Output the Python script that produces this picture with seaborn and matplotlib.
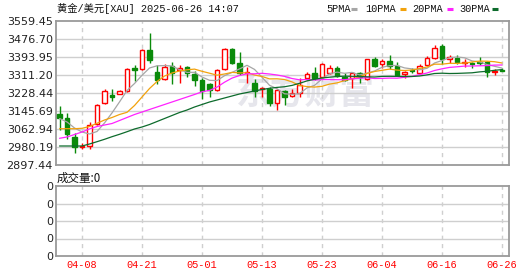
import numpy as np
import pandas as pd
import matplotlib
matplotlib.use("Agg")
import matplotlib.pyplot as plt
from matplotlib.lines import Line2D
import seaborn as sns

# ---------------- data ----------------
date_labels = ['04-08', '04-21', '05-01', '05-13', '05-23', '06-04', '06-16', '06-26']
date_pos = [3, 11, 19, 27, 35, 43, 51, 59]
price_ticks = [2897.44, 2980.19, 3062.94, 3145.69, 3228.44, 3311.20, 3393.95, 3476.70, 3559.45]

opens = [3130.5, 3112.1, 3027.6, 2978.8, 2984.8, 3085.9, 3181.1, 3219.3, 3223.9, 3236.3,
         3343.4, 3336.5, 3426.1, 3325.0, 3295.1, 3350.3, 3331.9, 3346.6, 3317.2, 3288.2,
         3269.8, 3242.2, 3338.8, 3433.0, 3365.0, 3318.1, 3274.4, 3246.8, 3249.1, 3181.1,
         3235.4, 3214.7, 3229.8, 3296.0, 3319.0, 3300.6, 3319.0, 3342.0, 3303.4, 3296.0,
         3321.8, 3291.4, 3383.4, 3360.4, 3375.6, 3352.6, 3315.8, 3334.2, 3321.8, 3357.2,
         3390.7, 3444.5, 3384.8, 3390.7, 3365.0, 3366.4, 3372.3, 3369.6, 3323.6, 3334.2]
highs = [3168.7, 3135.1, 3043.2, 2997.2, 3096.5, 3176.5, 3245.5, 3245.5, 3242.2, 3342.0,
         3357.2, 3429.4, 3505.7, 3357.2, 3360.4, 3369.6, 3354.9, 3352.6, 3329.6, 3299.7,
         3275.8, 3338.8, 3435.3, 3435.3, 3418.3, 3349.4, 3292.8, 3257.4, 3257.4, 3245.5,
         3242.2, 3246.8, 3296.0, 3326.4, 3346.6, 3367.8, 3357.2, 3352.6, 3319.0, 3326.4,
         3326.4, 3384.8, 3395.3, 3383.4, 3403.1, 3372.3, 3327.3, 3344.8, 3360.4, 3398.5,
         3449.1, 3453.7, 3403.1, 3403.1, 3384.8, 3372.3, 3395.3, 3376.9, 3338.8, 3344.8]
lows = [3058.4, 3015.6, 2954.0, 2971.0, 2969.6, 3081.3, 3180.0, 3191.7, 3221.6, 3234.4,
        3283.6, 3334.2, 3367.8, 3269.8, 3290.5, 3269.8, 3273.0, 3303.4, 3262.9, 3200.9,
        3210.1, 3237.6, 3331.9, 3361.8, 3311.2, 3274.4, 3211.4, 3211.4, 3168.7, 3150.3,
        3173.3, 3207.8, 3208.7, 3288.2, 3288.2, 3296.0, 3314.4, 3300.6, 3283.6, 3250.1,
        3275.8, 3289.6, 3346.6, 3342.0, 3338.8, 3306.6, 3296.0, 3319.0, 3319.0, 3354.0,
        3383.4, 3361.8, 3367.8, 3361.8, 3349.4, 3342.0, 3357.2, 3300.6, 3311.2, 3327.3]
closes = [3114.9, 3038.6, 2981.6, 2984.8, 3080.0, 3171.9, 3237.6, 3211.4, 3237.6, 3340.2,
          3332.8, 3426.1, 3380.2, 3288.2, 3345.7, 3321.8, 3341.1, 3319.0, 3289.6, 3239.0,
          3244.5, 3334.2, 3433.0, 3365.0, 3320.4, 3326.4, 3239.9, 3251.4, 3181.1, 3242.2,
          3210.1, 3227.1, 3265.2, 3315.8, 3298.8, 3360.4, 3342.0, 3306.6, 3288.2, 3319.0,
          3303.4, 3383.4, 3354.0, 3374.2, 3354.0, 3311.2, 3326.4, 3329.6, 3354.0, 3388.0,
          3433.9, 3384.8, 3392.6, 3369.6, 3369.6, 3363.6, 3365.0, 3326.4, 3331.0, 3329.6]

ma5 = [3111.2, 3095.1, 3067.6, 3049.2, 3040.0, 3051.5, 3091.0, 3137.0, 3187.5, 3239.9,
       3272.1, 3309.8, 3343.4, 3353.5, 3354.4, 3352.6, 3335.6, 3323.2, 3323.6, 3302.0,
       3286.8, 3285.5, 3308.0, 3323.2, 3339.2, 3355.8, 3336.9, 3300.6, 3263.9, 3248.2,
       3224.8, 3222.5, 3225.2, 3251.9, 3263.4, 3293.3, 3316.3, 3324.5, 3319.0, 3323.2,
       3311.7, 3319.9, 3329.6, 3346.6, 3354.0, 3355.3, 3343.8, 3339.2, 3335.1, 3342.0,
       3366.4, 3377.9, 3390.7, 3394.0, 3390.3, 3376.0, 3371.9, 3359.0, 3351.2, 3342.9]
ma10 = [3064.3, 3064.3, 3064.3, 3066.2, 3074.4, 3089.2, 3104.3, 3115.8, 3129.6, 3139.7,
        3171.0, 3210.1, 3249.1, 3281.3, 3306.6, 3320.4, 3329.6, 3335.1, 3338.3, 3328.2,
        3319.5, 3310.3, 3315.8, 3323.2, 3320.9, 3321.3, 3311.2, 3304.3, 3293.3, 3293.7,
        3290.5, 3279.5, 3262.9, 3257.9, 3255.6, 3259.3, 3269.4, 3274.9, 3285.5, 3293.3,
        3302.5, 3318.1, 3327.3, 3332.8, 3338.3, 3333.7, 3331.9, 3334.2, 3341.1, 3348.0,
        3360.9, 3360.9, 3365.0, 3364.5, 3365.9, 3371.0, 3375.1, 3374.6, 3372.3, 3366.4]
ma20 = [3020.2, 3026.2, 3037.7, 3049.2, 3063.0, 3074.4, 3081.3, 3088.2, 3102.0, 3115.8,
        3129.6, 3141.1, 3152.6, 3164.1, 3175.6, 3187.1, 3198.6, 3210.1, 3221.6, 3234.0,
        3240.4, 3255.6, 3278.1, 3297.0, 3308.9, 3316.7, 3316.7, 3319.0, 3315.8, 3311.2,
        3304.8, 3295.1, 3289.1, 3290.5, 3288.2, 3290.1, 3290.1, 3289.6, 3289.6, 3293.7,
        3296.5, 3298.8, 3295.1, 3295.6, 3297.0, 3296.5, 3300.6, 3304.8, 3313.0, 3320.4,
        3331.9, 3339.7, 3346.1, 3348.9, 3352.1, 3352.6, 3353.5, 3354.4, 3356.7, 3357.2]
ma30 = [2984.8, 2984.8, 2984.8, 2984.8, 2994.0, 3004.6, 3015.6, 3027.6, 3038.6, 3050.5,
        3063.0, 3072.2, 3083.6, 3097.4, 3111.2, 3125.0, 3138.8, 3150.3, 3164.1, 3175.6,
        3187.1, 3196.3, 3205.5, 3214.7, 3223.9, 3230.8, 3237.6, 3244.5, 3250.1, 3254.2,
        3257.2, 3263.4, 3273.0, 3284.1, 3291.4, 3297.4, 3301.1, 3304.3, 3305.7, 3305.2,
        3304.3, 3302.9, 3302.0, 3304.8, 3305.2, 3304.8, 3304.3, 3304.3, 3306.6, 3311.7,
        3318.1, 3319.5, 3318.1, 3318.6, 3319.9, 3321.3, 3325.5, 3328.2, 3332.8, 3336.0]

ma_names = ['5PMA', '10PMA', '20PMA', '30PMA']
ma_colors = ['#a6a6a6', '#f2a20c', '#ff22ff', '#0d6b2c']

# ---------------- style ----------------
sns.set_style("white")
plt.rcParams['font.family'] = ['DejaVu Sans']
mono_cjk = ['Liberation Mono', 'Noto Sans CJK SC', 'DejaVu Sans']

RED = '#ff0000'
GREEN = '#0a8a0a'
GRID = '#cfcfcf'
SPINE = '#9a9a9a'

W, H = 530, 276
fig = plt.figure(figsize=(W / 100, H / 100), dpi=100)
fig.patch.set_facecolor('white')


def rect(l, t, r, b):
    return [l / W, 1 - b / H, (r - l) / W, (b - t) / H]


ax = fig.add_axes(rect(56, 21, 509, 165))
ax2 = fig.add_axes(rect(56, 186, 509, 256))

n = len(closes)
idx = np.arange(n)
df = pd.DataFrame({'i': idx, 'open': opens, 'high': highs, 'low': lows, 'close': closes,
                   '5PMA': ma5, '10PMA': ma10, '20PMA': ma20, '30PMA': ma30})
up = df['close'] >= df['open']

# watermark (axes-fraction placement)
ax.text(0.55, 0.50, '东方财富', transform=ax.transAxes, ha='center', va='center',
        fontsize=25, family=['Noto Sans CJK SC'], fontweight='bold',
        color='#e6e6ec', zorder=0.5)

# grid
for p in price_ticks[1:-1]:
    ax.axhline(p, color=GRID, lw=1.0, zorder=1)
for x in date_pos:
    ax.axvline(x, color=GRID, lw=1.0, ls=(0, (3, 3)), zorder=1)

# candles
bw = 0.65
for mask, col, face in [(up, RED, 'white'), (~up, GREEN, GREEN)]:
    d = df[mask]
    ax.vlines(d['i'], d['low'], d['high'], color=col, lw=1.0, zorder=2)
    bottom = np.minimum(d['open'], d['close'])
    height = np.maximum(np.abs(d['close'] - d['open']), 1.2)
    ax.bar(d['i'], height, bottom=bottom, width=bw, facecolor=face,
           edgecolor=col, linewidth=1.0, zorder=3)

# moving averages
for name, col in zip(ma_names, ma_colors):
    sns.lineplot(data=df, x='i', y=name, ax=ax, color=col, linewidth=0.9,
                 zorder=4, legend=False)

ax.set_xlim(-0.47, 59.93)
ax.set_ylim(price_ticks[0], price_ticks[-1])
ax.set_yticks(price_ticks)
ax.set_yticklabels([f'{p:.2f}' for p in price_ticks])
ax.set_xticks([])
ax.set_xlabel('')
ax.set_ylabel('')
ax.tick_params(axis='y', length=0, pad=2.2, labelsize=8, labelcolor='#222222')
for s in ax.spines.values():
    s.set_color(SPINE)
    s.set_linewidth(1.3)

# volume panel (empty)
for v in [1, 2, 3]:
    ax2.axhline(v, color=GRID, lw=1.0, zorder=1)
for x in date_pos:
    ax2.axvline(x, color=GRID, lw=1.0, ls=(0, (3, 3)), zorder=1)
ax2.set_xlim(-0.47, 59.93)
ax2.set_ylim(0, 4)
ax2.set_yticks([0, 1, 2, 3, 4])
ax2.set_yticklabels(['0'] * 5)
ax2.set_xticks(date_pos)
ax2.set_xticklabels(date_labels)
ax2.tick_params(axis='y', length=0, pad=2.2, labelsize=8, labelcolor='#222222')
ax2.tick_params(axis='x', length=0, pad=3, labelsize=7.4, labelcolor=RED)
for lab in ax2.get_xticklabels():
    lab.set_family(mono_cjk)
for s in ax2.spines.values():
    s.set_color(SPINE)
    s.set_linewidth(1.3)

# texts
fig.text(57 / W, 1 - 9 / H, '黄金/美元[XAU] 2025-06-26 14:07', ha='left', va='center',
         fontsize=7.4, family=mono_cjk, color='#111111')
fig.text(57 / W, 1 - 178 / H, '成交量:0', ha='left', va='center',
         fontsize=8.3, family=['Noto Sans CJK SC', 'DejaVu Sans'], color='#111111')

# legend
leg_x = [326, 365, 412, 459]
dash_x = [351, 400, 447, 492]
for name, col, tx, dx in zip(ma_names, ma_colors, leg_x, dash_x):
    fig.text(tx / W, 1 - 9 / H, name, ha='left', va='center', fontsize=7.4,
             family=mono_cjk, color='#111111')
    fig.add_artist(Line2D([dx / W, (dx + 6) / W], [1 - 9 / H, 1 - 9 / H],
                          color=col, lw=2.2, solid_capstyle='butt'))

fig.savefig('out.png', dpi=100, facecolor='white')
